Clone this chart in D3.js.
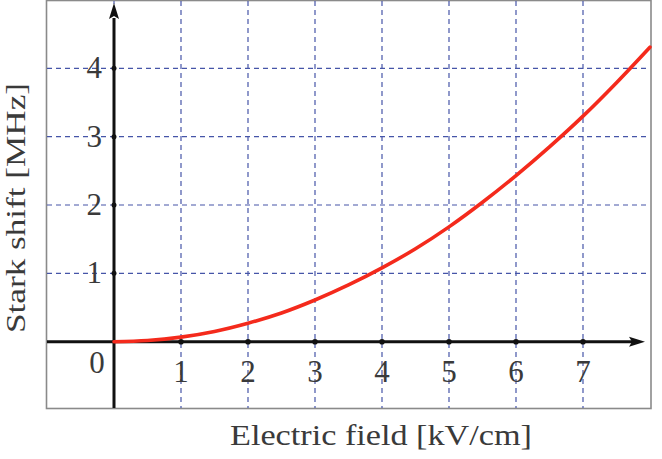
<!DOCTYPE html>
<html><head><meta charset="utf-8">
<script src="https://cdn.jsdelivr.net/npm/d3@7"></script>
<style>body{margin:0;background:#fff}svg{display:block}</style>
</head><body>
<script>
const fieldKV = [0,0.5,1,1.5,2,2.5,3,3.5,4,4.5,5,5.5,6,6.5,7,7.5,8];
const shiftMHz = [0,0.017,0.067,0.15,0.27,0.42,0.61,0.83,1.08,1.36,1.68,2.04,2.43,2.85,3.30,3.79,4.31];
const xTicks = [1,2,3,4,5,6,7];
const yTicks = [1,2,3,4];
const xTitle = "Electric field [kV/cm]";
const yTitle = "Stark shift [MHz]";

const W=662,H=459;
const svg=d3.select("body").append("svg").attr("width",W).attr("height",H);
const x=d3.scaleLinear().domain([0,8]).range([114,650]);
const y=d3.scaleLinear().domain([0,4]).range([341.7,68.3]);
const font="Liberation Serif, DejaVu Serif, Times New Roman, serif";
const txt="#3a3a3a";
const gridC="#4655a8";

// box
svg.append("rect").attr("x",46.5).attr("y",0.5).attr("width",604.5).attr("height",408)
  .attr("fill","none").attr("stroke","#8a8a8a").attr("stroke-width",1.6);

// grid
svg.selectAll(".gh").data(yTicks).join("line")
  .attr("x1",47).attr("x2",650).attr("y1",d=>y(d)).attr("y2",d=>y(d))
  .attr("stroke",gridC).attr("stroke-width",1.2).attr("stroke-dasharray","5,4");
svg.selectAll(".gv").data(xTicks).join("line")
  .attr("x1",d=>x(d)).attr("x2",d=>x(d)).attr("y1",1).attr("y2",408)
  .attr("stroke",gridC).attr("stroke-width",1.2).attr("stroke-dasharray","5,4");
svg.append("line").attr("x1",x(0)).attr("x2",x(0)).attr("y1",1).attr("y2",10)
  .attr("stroke",gridC).attr("stroke-width",1.1).attr("stroke-dasharray","3,3");

// axes
svg.append("line").attr("x1",47).attr("x2",635).attr("y1",y(0)).attr("y2",y(0))
  .attr("stroke","#111").attr("stroke-width",3);
svg.append("line").attr("x1",x(0)).attr("x2",x(0)).attr("y1",408).attr("y2",18)
  .attr("stroke","#111").attr("stroke-width",3);
svg.append("path").attr("d",`M${645},${y(0)} L${629},${y(0)-5} L${632},${y(0)} L${629},${y(0)+5} Z`).attr("fill","#111");
svg.append("path").attr("d",`M${x(0)},3 L${x(0)-5},19 L${x(0)},16 L${x(0)+5},19 Z`).attr("fill","#111");

// tick dots
svg.selectAll(".dx").data(xTicks).join("circle").attr("cx",d=>x(d)).attr("cy",y(0)).attr("r",2.8).attr("fill","#111");
svg.selectAll(".dy").data(yTicks).join("circle").attr("cx",x(0)).attr("cy",d=>y(d)).attr("r",2.5).attr("fill","#111");

// curve
const pts=fieldKV.map((f,i)=>[f,shiftMHz[i]]);
svg.append("path").datum(pts)
  .attr("d",d3.line().x(d=>x(d[0])).y(d=>y(d[1])).curve(d3.curveMonotoneX))
  .attr("fill","none").attr("stroke","#f42a1c").attr("stroke-width",3.6).attr("stroke-linecap","round");

// tick labels
svg.selectAll(".tx").data(xTicks).join("text")
  .attr("x",d=>x(d)).attr("y",382).attr("text-anchor","middle")
  .attr("font-family",font).attr("font-size",31).attr("fill",txt).text(d=>d);
svg.selectAll(".ty").data(yTicks).join("text")
  .attr("x",102).attr("y",d=>y(d)+10).attr("text-anchor","end")
  .attr("font-family",font).attr("font-size",31).attr("fill",txt).text(d=>d);
svg.append("text").attr("x",97).attr("y",373).attr("text-anchor","middle")
  .attr("font-family",font).attr("font-size",31).attr("fill",txt).text("0");

// titles
svg.append("text").attr("x",230).attr("y",445)
  .attr("textLength",302).attr("lengthAdjust","spacingAndGlyphs")
  .attr("font-family",font).attr("font-size",29).attr("fill",txt).text(xTitle);
svg.append("text").attr("transform","translate(25,333) rotate(-90)")
  .attr("textLength",250).attr("lengthAdjust","spacingAndGlyphs")
  .attr("font-family",font).attr("font-size",28).attr("fill",txt).text(yTitle);
</script>
</body></html>
